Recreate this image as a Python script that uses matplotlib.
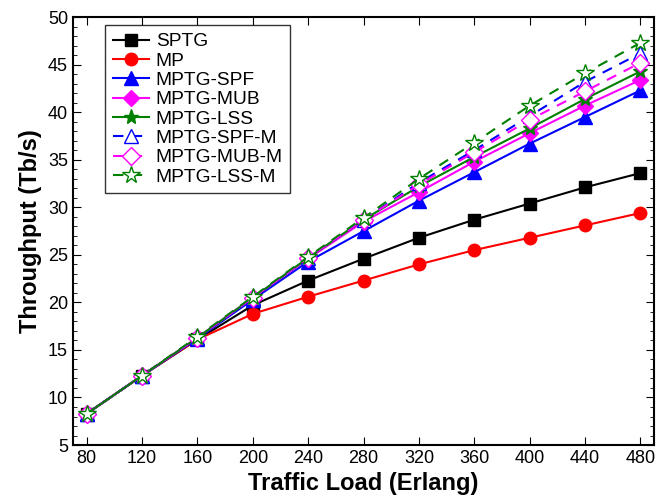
import matplotlib
matplotlib.use('Agg')
import matplotlib.pyplot as plt
from matplotlib.ticker import MultipleLocator

plt.rcParams['font.family'] = ['Liberation Sans', 'DejaVu Sans']

# Data
loads = [80, 120, 160, 200, 240, 280, 320, 360, 400, 440, 480]
sptg = [8.3, 12.3, 16.1, 19.7, 22.3, 24.6, 26.8, 28.7, 30.4, 32.1, 33.6]
mp = [8.3, 12.3, 16.1, 18.8, 20.6, 22.3, 24.0, 25.5, 26.8, 28.1, 29.4]
mptg_spf = [8.3, 12.3, 16.2, 20.3, 24.3, 27.5, 30.7, 33.7, 36.7, 39.5, 42.3]
mptg_mub = [8.3, 12.3, 16.3, 20.5, 24.6, 28.5, 31.6, 34.8, 37.8, 40.7, 43.4]
mptg_lss = [8.3, 12.3, 16.3, 20.5, 24.7, 28.7, 32.2, 35.3, 38.3, 41.4, 44.3]
mptg_spf_m = [8.3, 12.3, 16.3, 20.5, 24.7, 28.7, 32.6, 36.0, 39.6, 43.2, 46.2]
mptg_mub_m = [8.3, 12.3, 16.3, 20.5, 24.7, 28.7, 32.4, 35.8, 39.2, 42.2, 45.2]
mptg_lss_m = [8.3, 12.3, 16.4, 20.6, 24.8, 28.9, 33.0, 36.8, 40.7, 44.1, 47.3]

fig = plt.figure(figsize=(6.69, 5.04), dpi=100)
ax = fig.add_axes([0.109, 0.117, 0.869, 0.849])

ax.plot(loads, sptg, color='black', marker='s', markersize=8, lw=1.5, label='SPTG')
ax.plot(loads, mp, color='red', marker='o', markersize=9, lw=1.5, label='MP')
ax.plot(loads, mptg_spf, color='blue', marker='^', markersize=10, lw=1.5, label='MPTG-SPF')
ax.plot(loads, mptg_mub, color='magenta', marker='D', markersize=8, lw=1.5, label='MPTG-MUB')
ax.plot(loads, mptg_lss, color='green', marker='*', markersize=11, lw=1.5, label='MPTG-LSS')
ax.plot(loads, mptg_spf_m, color='blue', marker='^', markersize=10, mfc='white', lw=1.5,
        ls=(0, (5, 4)), label='MPTG-SPF-M')
ax.plot(loads, mptg_mub_m, color='magenta', marker='D', markersize=9, mfc='white', lw=1.5,
        ls=(0, (5, 4)), label='MPTG-MUB-M')
ax.plot(loads, mptg_lss_m, color='green', marker='*', markersize=13, mfc='white', lw=1.5,
        ls=(0, (5, 4)), label='MPTG-LSS-M')

ax.set_xlim(70, 490)
ax.set_ylim(5, 50)
ax.set_xticks(loads)
ax.yaxis.set_major_locator(MultipleLocator(5))
ax.yaxis.set_minor_locator(MultipleLocator(1))
ax.tick_params(direction='in', which='both', top=True, right=True, labelsize=13)
ax.tick_params(which='major', length=6)
ax.tick_params(which='minor', length=3)
for s in ax.spines.values():
    s.set_linewidth(1.5)

ax.set_xlabel('Traffic Load (Erlang)', fontsize=17, fontweight='bold')
ax.set_ylabel('Throughput (Tb/s)', fontsize=17, fontweight='bold')

leg = ax.legend(loc='upper left', bbox_to_anchor=(0.055, 0.981), borderaxespad=0,
                fontsize=13.8, fancybox=False, edgecolor='black', handlelength=1.9,
                labelspacing=0.1, borderpad=0.4, handletextpad=0.35)
leg.get_frame().set_linewidth(1.0)

plt.savefig('out.png')
